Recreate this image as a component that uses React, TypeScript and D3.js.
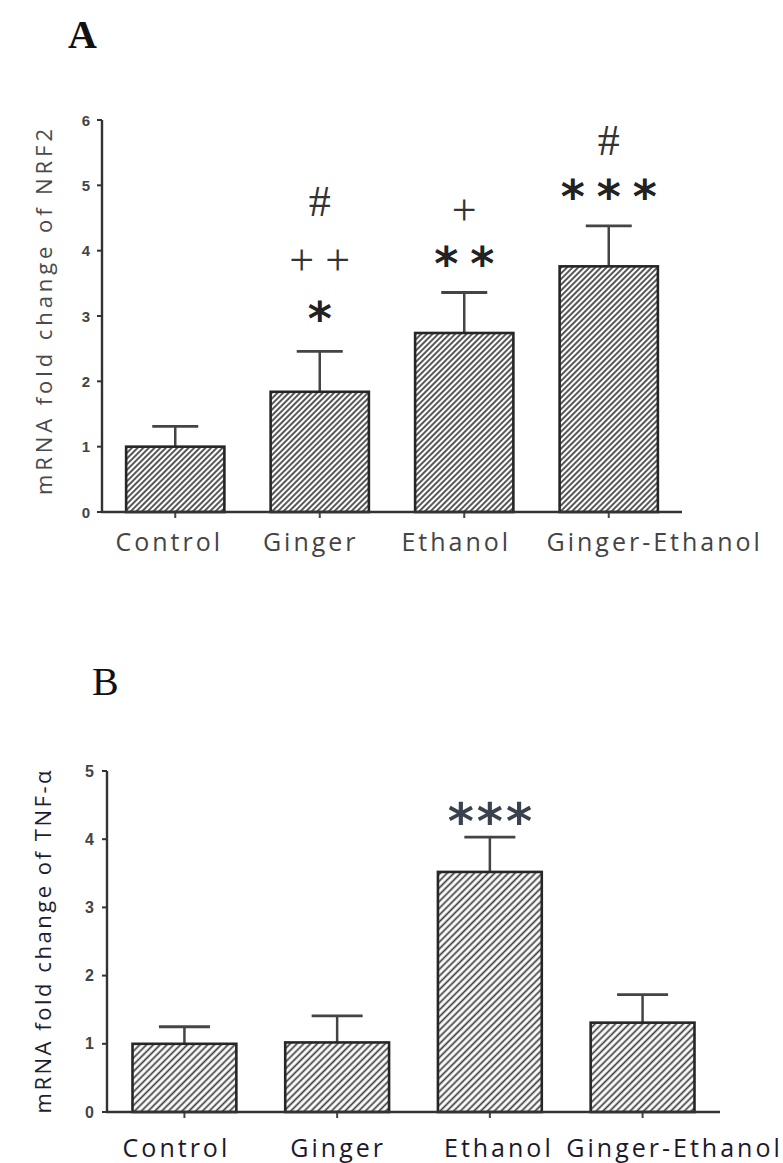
import React from 'react';
import * as d3 from 'd3';

// ---------- data ----------
const categories = ['Control', 'Ginger', 'Ethanol', 'Ginger-Ethanol'];

const nrf2Mean = [1.0, 1.84, 2.74, 3.76];
const nrf2Upper = [1.31, 2.46, 3.36, 4.38];
const nrf2Marks = [[], ['*', '+ +', '#'], ['* *', '+'], ['* * *', '#']];
const nrf2Ticks = [0, 1, 2, 3, 4, 5, 6];

const tnfMean = [1.0, 1.02, 3.52, 1.31];
const tnfUpper = [1.25, 1.41, 4.03, 1.72];
const tnfMarks = [[], [], ['***'], []];
const tnfTicks = [0, 1, 2, 3, 4, 5];

// ---------- layout ----------
const W = 783;
const H = 1163;

type PanelCfg = {
  id: string;
  letter: string;
  letterBold: boolean;
  letterX: number;
  letterY: number;
  x0: number;
  x1: number;
  y0: number;
  yTop: number;
  yMax: number;
  ticks: number[];
  means: number[];
  upper: number[];
  marks: string[][];
  markOffsets: number[][];
  markGap: number;
  yLabel: string;
  yLabelX: number;
  yLabelCy: number;
  yLabelLen: number;
  yLabelColor: string;
  labelY: number;
  labelShift: number[];
  labelSize: number;
  labelSpacing: number;
  labelColor: string;
  tickSize: number;
  tickGap: number;
  capW: number;
  hatch: number;
};

const panels: PanelCfg[] = [
  {
    id: 'A', letter: 'A', letterBold: true, letterX: 68, letterY: 48,
    x0: 102, x1: 682, y0: 512, yTop: 120, yMax: 6, ticks: nrf2Ticks,
    means: nrf2Mean, upper: nrf2Upper, marks: nrf2Marks,
    markOffsets: [[], [42, 87, 150], [38, 78], [39, 86]], markGap: 36,
    yLabel: 'mRNA fold change of NRF2', yLabelX: 43, yLabelCy: 312, yLabelLen: 366, yLabelColor: '#4a4a4a',
    labelY: 551, labelShift: [-6, -9, -8, 46], labelSize: 25, labelSpacing: 3, labelColor: '#444',
    tickSize: 15, tickGap: 12, capW: 46, hatch: 4.0,
  },
  {
    id: 'B', letter: 'B', letterBold: false, letterX: 92, letterY: 695,
    x0: 107, x1: 720, y0: 1112, yTop: 771, yMax: 5, ticks: tnfTicks,
    means: tnfMean, upper: tnfUpper, marks: tnfMarks,
    markOffsets: [[], [], [26], []], markGap: 0,
    yLabel: 'mRNA fold change of TNF-α', yLabelX: 42, yLabelCy: 942, yLabelLen: 343, yLabelColor: '#1e1e30',
    labelY: 1157, labelShift: [-8, 1, 9, 32], labelSize: 25, labelSpacing: 3, labelColor: '#1a1a2a',
    tickSize: 16, tickGap: 13, capW: 51, hatch: 4.8,
  },
];

function glyphStyle(tok: string, panelId: string) {
  if (tok.includes('*')) {
    if (panelId === 'B') return { family: 'DejaVu Sans', size: 50, weight: 'bold', lift: 0.56, color: '#3a4250', spacing: 3 };
    return { family: 'DejaVu Sans', size: 46, weight: 'bold', lift: 0.56, color: '#222', spacing: 0 };
  }
  if (tok === '+') return { family: 'Liberation Serif', size: 44, weight: 'normal', lift: 0.25, color: '#333', spacing: 0 };
  return { family: 'Liberation Serif', size: 44, weight: 'normal', lift: 0.34, color: '#333', spacing: 0 };
}

function Panel({ p }: { p: PanelCfg }) {
  const x = d3.scaleBand<string>().domain(categories).range([p.x0, p.x1]).paddingInner(0.32).paddingOuter(0.167);
  const y = d3.scaleLinear().domain([0, p.yMax]).range([p.y0, p.yTop]);
  const bw = x.bandwidth();
  const pid = `hatch${p.id}`;
  return (
    <g>
      <defs>
        <pattern id={pid} patternUnits="userSpaceOnUse" width={p.hatch} height={p.hatch} patternTransform="rotate(45)">
          <rect width={p.hatch} height={p.hatch} fill="#fff" />
          <line x1={p.hatch / 2} y1={0} x2={p.hatch / 2} y2={p.hatch} stroke="#3a3a3a" strokeWidth={1.7} />
        </pattern>
      </defs>
      <text x={p.letterX} y={p.letterY} fontFamily="Liberation Serif" fontSize={40} fontWeight={p.letterBold ? 'bold' : 'normal'} fill="#111">{p.letter}</text>
      {/* y label */}
      <text transform={`translate(${p.yLabelX},${p.yLabelCy}) rotate(-90)`} textAnchor="middle" dominantBaseline="central"
        fontFamily="Open Sans" fontSize={22} fill={p.yLabelColor} textLength={p.yLabelLen} lengthAdjust="spacing">{p.yLabel}</text>
      {/* bars */}
      {categories.map((c, i) => {
        const cx = (x(c) as number) + bw / 2;
        return (
          <g key={c}>
            <line x1={cx} x2={cx} y1={y(p.means[i])} y2={y(p.upper[i])} stroke="#444" strokeWidth={2.5} />
            <line x1={cx - p.capW / 2} x2={cx + p.capW / 2} y1={y(p.upper[i])} y2={y(p.upper[i])} stroke="#444" strokeWidth={2.8} />
            <rect x={x(c)} y={y(p.means[i])} width={bw} height={p.y0 - y(p.means[i])} fill={`url(#${pid})`} stroke="#262626" strokeWidth={2.6} />
            <line x1={cx} x2={cx} y1={p.y0} y2={p.y0 + 6} stroke="#444" strokeWidth={2} />
            <text x={cx + p.labelShift[i]} y={p.labelY} textAnchor="middle" fontFamily="Open Sans" fontSize={p.labelSize}
              letterSpacing={p.labelSpacing} fill={p.labelColor}>{c}</text>
            {p.marks[i].map((row, r) => {
              const toks = p.id === 'B' ? [row] : row.split(' ');
              const cyMark = y(p.upper[i]) - p.markOffsets[i][r];
              return toks.map((t, k) => {
                const gs = glyphStyle(t, p.id);
                const tx = cx + (k - (toks.length - 1) / 2) * p.markGap + gs.spacing / 2;
                return (
                  <text key={`${r}-${k}`} x={tx} y={cyMark + gs.lift * gs.size} textAnchor="middle" fontFamily={gs.family}
                    fontSize={gs.size} fontWeight={gs.weight} letterSpacing={gs.spacing} fill={gs.color}>{t}</text>
                );
              });
            })}
          </g>
        );
      })}
      {/* axes */}
      <line x1={p.x0} x2={p.x0} y1={p.y0 + 1} y2={p.yTop} stroke="#333" strokeWidth={2.4} />
      <line x1={p.x0 - 1} x2={p.x1} y1={p.y0} y2={p.y0} stroke="#333" strokeWidth={2.4} />
      {p.ticks.map((t) => (
        <g key={t}>
          <line x1={p.x0 - 5} x2={p.x0} y1={y(t)} y2={y(t)} stroke="#333" strokeWidth={2} />
          <text x={p.x0 - p.tickGap} y={y(t)} textAnchor="end" dominantBaseline="central" fontFamily="Liberation Sans" fontWeight="bold"
            fontSize={p.tickSize} fill="#444">{t}</text>
        </g>
      ))}
    </g>
  );
}

export default function App() {
  return (
    <svg width={W} height={H} viewBox={`0 0 ${W} ${H}`} style={{ position: 'absolute', left: 0, top: 0, background: '#fff', display: 'block' }}>
      <rect width={W} height={H} fill="#fff" />
      {panels.map((p) => <Panel key={p.id} p={p} />)}
    </svg>
  );
}
